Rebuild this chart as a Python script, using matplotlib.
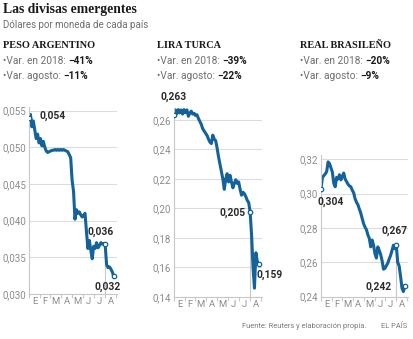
import matplotlib
matplotlib.use("Agg")
import matplotlib.pyplot as plt
import numpy as np

W, H = 414, 339
plt.rcParams['font.family'] = ['Roboto', 'DejaVu Sans']

days = list(range(0, 237, 4))  # days since 1 Jan 2018

peso = [0.0540, 0.0545, 0.0528, 0.0536, 0.0524, 0.0512, 0.0518, 0.0506, 0.0512, 0.0502,
        0.0508, 0.0500, 0.0495, 0.0493, 0.0494, 0.0495, 0.0496, 0.0496, 0.0497, 0.0496,
        0.0497, 0.0496, 0.0497, 0.0496, 0.0497, 0.0496, 0.0495, 0.0494, 0.0490, 0.0486,
        0.0455, 0.0440, 0.0402, 0.0415, 0.0410, 0.0412, 0.0408, 0.0405, 0.0407, 0.0410,
        0.0385, 0.0362, 0.0373, 0.0360, 0.0348, 0.0365, 0.0362, 0.0370, 0.0363, 0.0366,
        0.0370, 0.0368, 0.0369, 0.0368, 0.0340, 0.0336, 0.0337, 0.0334, 0.0330, 0.0324]

lira = [0.2635, 0.2668, 0.2642, 0.2670, 0.2648, 0.2668, 0.2640, 0.2670, 0.2650, 0.2668,
        0.2625, 0.2645, 0.2660, 0.2640, 0.2645, 0.2630, 0.2635, 0.2610, 0.2590, 0.2570,
        0.2540, 0.2525, 0.2510, 0.2495, 0.2470, 0.2450, 0.2440, 0.2497, 0.2470, 0.2460,
        0.2410, 0.2350, 0.2300, 0.2250, 0.2200, 0.2130, 0.2200, 0.2236, 0.2180, 0.2225,
        0.2180, 0.2140, 0.2170, 0.2195, 0.2170, 0.2180, 0.2130, 0.2090, 0.2110, 0.2100,
        0.2080, 0.2055, 0.2040, 0.1975, 0.1820, 0.1600, 0.1460, 0.1700, 0.1640, 0.1625]

real = [0.3027, 0.3095, 0.3105, 0.3115, 0.3128, 0.3185, 0.3175, 0.3150, 0.3125, 0.3060,
        0.3040, 0.3095, 0.3085, 0.3110, 0.3080, 0.3100, 0.3120, 0.3085, 0.3070, 0.3055,
        0.3045, 0.3040, 0.3020, 0.3005, 0.2970, 0.2950, 0.2935, 0.2910, 0.2887, 0.2855,
        0.2825, 0.2805, 0.2790, 0.2760, 0.2740, 0.2690, 0.2730, 0.2700, 0.2650, 0.2625,
        0.2690, 0.2670, 0.2645, 0.2610, 0.2560, 0.2565, 0.2580, 0.2595, 0.2620, 0.2640,
        0.2670, 0.2700, 0.2680, 0.2700, 0.2600, 0.2580, 0.2520, 0.2450, 0.2430, 0.2462]

month_labels = ["E", "F", "M", "A", "M", "J", "J", "A"]
month_starts = [0, 31, 59, 90, 120, 151, 181, 212, 243]

titles = ["PESO ARGENTINO", "LIRA TURCA", "REAL BRASILEÑO"]
var_2018 = ["−41%", "−39%", "−20%"]
var_ago = ["−11%", "−22%", "−9%"]
labels_start = ["0,054", "0,263", "0,304"]
labels_aug = ["0,036", "0,205", "0,267"]
labels_end = ["0,032", "0,159", "0,242"]

series = [peso, lira, real]
yticks = [np.arange(0.030, 0.0551, 0.005), np.arange(0.14, 0.2601, 0.02), np.arange(0.24, 0.3201, 0.02)]
ytickfmt = ["{:.3f}", "{:.2f}", "{:.2f}"]
boxes = [(29, 117, 294, 106.5), (174, 262, 297, 108), (321, 408, 296.7, 155)]
ylims = [(0.030, 0.05557), (0.14, 0.2681), (0.24, 0.3225)]

BLUE = "#14629c"
GREY = "#8c8c8c"
DARK = "#2b2b2b"

fig = plt.figure(figsize=(W / 100, H / 100), dpi=100)

def fx(x):
    return x / W

def fy(y):
    return 1 - y / H

for i in range(3):
    l, r, b, t = boxes[i]
    ax = fig.add_axes([fx(l), fy(b), (r - l) / W, (b - t) / H])
    d = days
    v = series[i]
    ax.set_xlim(0, 245)
    ax.set_ylim(*ylims[i])
    for yv in yticks[i]:
        ax.axhline(yv, color="#dcdcdc", lw=0.8, zorder=0)
    idx = d.index(212)
    ax.plot([212, 212], [ylims[i][0], v[idx]], color="#c8c8c8", lw=0.8, zorder=1)
    ax.plot(d, v, color=BLUE, lw=2.2, solid_joinstyle="round", zorder=2)
    for k in [0, idx, len(d) - 1]:
        ax.plot(d[k], v[k], marker="o", ms=3.2, mfc="white", mec=BLUE, mew=0.9, zorder=3)
    for s in ["top", "right"]:
        ax.spines[s].set_visible(False)
    for s in ["left", "bottom"]:
        ax.spines[s].set_color("#c8c8c8")
        ax.spines[s].set_linewidth(0.8)
    ax.set_yticks(yticks[i])
    ax.set_yticklabels([ytickfmt[i].format(y).replace(".", ",") for y in yticks[i]])
    ax.tick_params(axis="y", length=0, pad=2, labelsize=7, labelcolor=GREY)
    ax.set_xticks(month_starts)
    ax.set_xticklabels([])
    ax.set_xticks([(month_starts[j] + month_starts[j + 1]) / 2 for j in range(8)], minor=True)
    ax.set_xticklabels(month_labels, minor=True)
    ax.tick_params(axis="x", which="major", length=3, color="#c8c8c8", width=0.8)
    ax.tick_params(axis="x", which="minor", length=0, pad=2.5, labelsize=6.8, labelcolor=GREY)
    ax.patch.set_alpha(0)

fig.text(fx(3), fy(10), "Las divisas emergentes", family="Liberation Serif", weight="bold",
         fontsize=9.8, color="#1a1a1a", va="center", ha="left")
fig.text(fx(3), fy(25.5), "Dólares por moneda de cada país", fontsize=7.0, color="#6e6e6e",
         va="center", ha="left")

head_x = [3, 157, 300]
renderer = fig.canvas.get_renderer()
for i in range(3):
    x0 = head_x[i]
    fig.text(fx(x0), fy(46), titles[i], family="Liberation Serif", weight="bold",
             fontsize=7.4, color="#1a1a1a", va="center", ha="left")
    for yy, lab, val in [(61, "•Var. en 2018: ", var_2018[i]), (76, "•Var. agosto: ", var_ago[i])]:
        t = fig.text(fx(x0), fy(yy), lab, fontsize=7.3, color="#6e6e6e", va="center", ha="left")
        bb = t.get_window_extent(renderer=renderer)
        fig.text(bb.x1 / W, fy(yy), val, fontsize=7.3, color="#1a1a1a", weight="bold",
                 va="center", ha="left")

ann = [
    [(40, 116, "left"), (88, 232, "left"), (95, 287, "left")],
    [(161, 97, "left"), (246, 213, "right"), (257, 275, "left")],
    [(318, 202, "left"), (382, 231, "left"), (392, 287, "right")],
]
for i in range(3):
    texts = [labels_start[i], labels_aug[i], labels_end[i]]
    for (x, y, ha), s in zip(ann[i], texts):
        fig.text(fx(x), fy(y), s, fontsize=7.4, weight="bold", color=DARK, ha=ha, va="center")

fig.text(fx(366), fy(327), "Fuente: Reuters y elaboración propia.", fontsize=5.4, color="#7a7a7a",
         ha="right", va="center")
fig.text(fx(407), fy(327), "EL PAÍS", fontsize=5.4, color="#7a7a7a", ha="right", va="center")

fig.savefig("out.png", dpi=100)
